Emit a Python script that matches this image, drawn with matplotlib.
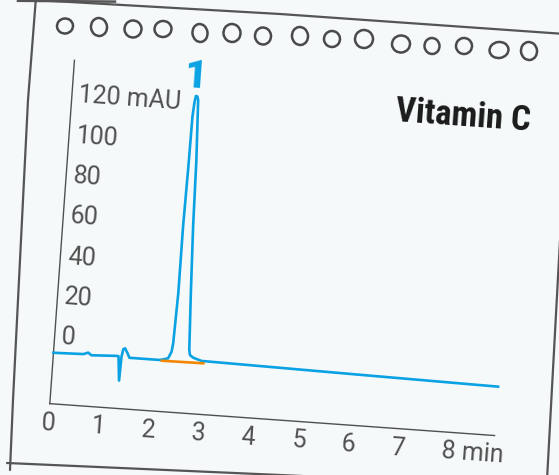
import matplotlib
matplotlib.use("Agg")
import matplotlib.pyplot as plt
from matplotlib import font_manager
from matplotlib.patches import Ellipse
from matplotlib.transforms import Affine2D

# chromatogram trace (time in min, signal in mAU)
trace_time = [0.00, 0.60, 0.69, 0.76, 1.27, 1.30, 1.345, 1.36, 1.385, 1.42, 1.47, 1.52,
              2.13, 2.29, 2.35, 2.37, 2.40, 2.40, 2.42, 2.43, 2.45, 2.47, 2.50, 2.52,
              2.57, 2.60, 2.65, 2.70, 2.72, 2.79, 2.96, 3.73, 6.06, 8.90]
trace_mau = [-7.8, -7.4, -6.5, -7.7, -7.1, -7.2, -19.2, -7.4, -3.6, -3.1, -5.2, -7.6,
             -7.6, -6.5, -3.1, 1.1, 25.9, 58.9, 88.6, 113.4, 120.5, 123.7, 123.5, 121.8,
             92.2, 59.2, 26.3, -1.6, -4.1, -5.3, -6.6, -6.9, -7.8, -8.8]

# integration baseline under peak 1
base_time = [2.17, 3.00]
base_mau = [-7.9, -7.7]

peak_label = "1"
peak_pos = (2.44, 133)

x_ticks = [0, 1, 2, 3, 4, 5, 6, 7, 8]
x_labels = ["0", "1", "2", "3", "4", "5", "6", "7", "8 min"]
y_ticks = [0, 20, 40, 60, 80, 100, 120]
y_labels = ["0", "20", "40", "60", "80", "100", "120 mAU"]
title = "Vitamin C"

# notebook decoration (page pixels)
ring_x = [65, 99, 133, 163, 200, 232, 263, 300, 332, 364, 401, 432, 464, 499, 529]
ring_y = [26, 27, 29, 29, 33, 33, 36, 36, 39, 39, 44, 46, 46, 50, 51]
ring_w = [16, 16, 17, 17, 15, 17, 16, 16, 16, 18, 18, 15, 16, 19, 16]
ring_h = [15, 18, 17, 16, 18, 18, 17, 18, 16, 18, 17, 16, 16, 16, 18]

W, H = 559, 475
BG = "#f5f9fa"
INK = "#505050"
BLUE = "#0aa2e3"
ORANGE = "#f28705"
TILT = 4.1


def pick_family(candidates):
    names = {f.name for f in font_manager.fontManager.ttflist}
    for name in candidates:
        if name in names:
            return name
    return "DejaVu Sans"


text_font = pick_family(["Roboto", "Open Sans", "Noto Sans", "DejaVu Sans"])
title_font = pick_family(["Roboto Condensed", "Oswald", "Liberation Sans Narrow",
                          "Open Sans Condensed", "DejaVu Sans"])

fig = plt.figure(figsize=(W / 100, H / 100), dpi=100, facecolor=BG)
page = fig.add_axes([0, 0, 1, 1])
page.set_xlim(0, W)
page.set_ylim(H, 0)
page.axis("off")
page.set_facecolor(BG)

# the sheet of paper
edge = dict(color="#555555", lw=1.6, solid_capstyle="round", zorder=2)
page.plot([18, 115], [0.8, 1.6], color="#555555", lw=1.8, zorder=2)
page.plot([35, 280, 565], [0, 14, 34], **edge)
page.plot([36, 28, 13, 10], [-3, 100, 400, 470], **edge)
page.plot([7, 280, 565], [463, 475, 488], **edge)
page.plot([563, 547], [185, 480], **edge)
for x, y, w, h in zip(ring_x, ring_y, ring_w, ring_h):
    page.add_patch(Ellipse((x, y), w, h, angle=-8, fill=False,
                           ec="#4a4a4a", lw=1.8, zorder=3))

# chart frame: minutes / mAU -> tilted page pixels
chart = (Affine2D().scale(50.1, -2.025).rotate_deg(TILT).translate(54.6, 337)
         + page.transData)

ax_line = dict(color=INK, lw=1.0, transform=chart, zorder=2)
page.plot([0, 0], [-33, 137], **ax_line)
page.plot([0, 8.9], [-33, -33], **ax_line)

page.plot(trace_time, trace_mau, color=BLUE, lw=1.9, transform=chart,
          solid_joinstyle="round", zorder=4)
page.plot(base_time, base_mau, color=ORANGE, lw=1.9, transform=chart, zorder=5)

lab = dict(family=text_font, fontsize=18, color=INK, rotation=-TILT,
           rotation_mode="anchor", transform=chart)
for t, s in zip(x_ticks, x_labels):
    if s == x_labels[-1]:
        page.text(t - 0.14, -42.6, s, ha="left", va="center", **lab)
    else:
        page.text(t, -42.6, s, ha="center", va="center", **lab)
for v, s in zip(y_ticks, y_labels):
    page.text(0.14, v, s, ha="left", va="center", **lab)

page.text(peak_pos[0], peak_pos[1], peak_label, family=text_font, fontsize=28,
          fontweight="heavy", color=BLUE, ha="center", va="center",
          rotation=-TILT, rotation_mode="anchor", transform=chart, zorder=6)

page.text(7.81, 123, title, family=title_font, fontstretch="condensed",
          fontsize=25, fontweight="bold", color="#1a1a1a", ha="center", va="center",
          rotation=-TILT, rotation_mode="anchor", transform=chart)

fig.savefig("out.png", dpi=100, facecolor=BG)
